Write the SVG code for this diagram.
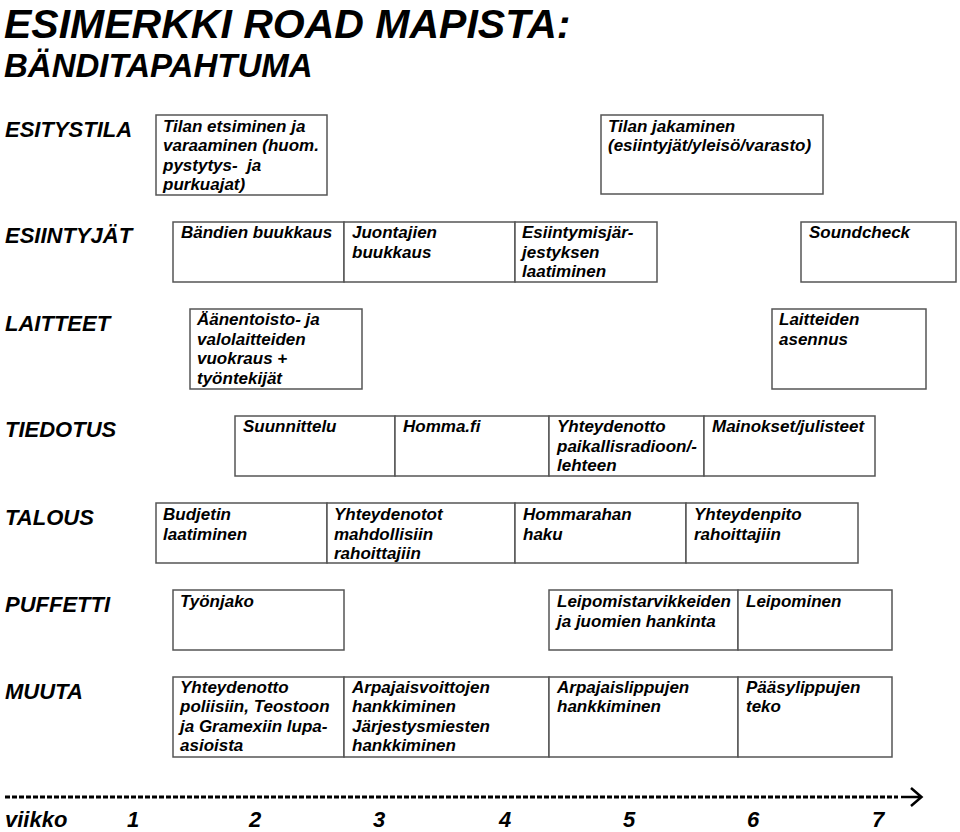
<svg xmlns="http://www.w3.org/2000/svg" width="960" height="832" viewBox="0 0 960 832">
<style>
text{font-family:"Liberation Sans",Arial,sans-serif;font-weight:bold;font-style:italic;fill:#000}
.title1{font-size:41px}
.title2{font-size:33px}
.lab{font-size:22px}
.t{font-size:17px}
.box{fill:#fff;stroke:#555;stroke-width:1.5}
.dash{fill:none;stroke:#000;stroke-width:3;stroke-dasharray:5 2}
.arr{fill:none;stroke:#000;stroke-width:2.5}
</style>
<rect width="960" height="832" fill="#fff"/>
<g id="title">
<text class="title1" x="4" y="37.5">ESIMERKKI ROAD MAPISTA:</text>
<text class="title2" x="4" y="76.5">BÄNDITAPAHTUMA</text>
</g>
<g id="row-labels">
<text class="lab" x="5" y="137">ESITYSTILA</text>
<text class="lab" x="5" y="243">ESIINTYJÄT</text>
<text class="lab" x="5" y="331">LAITTEET</text>
<text class="lab" x="5" y="437">TIEDOTUS</text>
<text class="lab" x="5" y="525">TALOUS</text>
<text class="lab" x="5" y="612">PUFFETTI</text>
<text class="lab" x="5" y="699">MUUTA</text>
</g>
<g id="n-tilan-etsiminen"><rect class="box" x="156" y="115" width="171" height="80"/>
<text class="t" x="163" y="131.5">Tilan etsiminen ja<tspan x="163" dy="19.5">varaaminen (huom.</tspan><tspan x="163" dy="19.5" xml:space="preserve">pystytys-  ja</tspan><tspan x="163" dy="19.5">purkuajat)</tspan></text></g>
<g id="n-tilan-jakaminen"><rect class="box" x="601" y="115" width="222" height="79"/>
<text class="t" x="608" y="131.5">Tilan jakaminen<tspan x="608" dy="19.5">(esiintyjät/yleisö/varasto)</tspan></text></g>

<g id="n-bandien"><rect class="box" x="173" y="222" width="171" height="60"/>
<text class="t" x="181" y="238">Bändien buukkaus</text></g>
<g id="n-juontajien"><rect class="box" x="344" y="222" width="171" height="60"/>
<text class="t" x="352" y="238">Juontajien<tspan x="352" dy="19.5">buukkaus</tspan></text></g>
<g id="n-esiintymis"><rect class="box" x="515" y="222" width="142" height="60"/>
<text class="t" x="522" y="238">Esiintymisjär-<tspan x="522" dy="19.5">jestyksen</tspan><tspan x="522" dy="19.5">laatiminen</tspan></text></g>
<g id="n-soundcheck"><rect class="box" x="801" y="222" width="155" height="60"/>
<text class="t" x="809" y="238">Soundcheck</text></g>

<g id="n-aanentoisto"><rect class="box" x="190" y="309" width="172" height="80"/>
<text class="t" x="197" y="325">Äänentoisto- ja<tspan x="197" dy="19.5">valolaitteiden</tspan><tspan x="197" dy="19.5">vuokraus +</tspan><tspan x="197" dy="19.5">työntekijät</tspan></text></g>
<g id="n-laitteiden"><rect class="box" x="772" y="309" width="154" height="80"/>
<text class="t" x="779" y="325">Laitteiden<tspan x="779" dy="19.5">asennus</tspan></text></g>

<g id="n-suunnittelu"><rect class="box" x="235" y="416" width="160" height="60"/>
<text class="t" x="243" y="432">Suunnittelu</text></g>
<g id="n-homma"><rect class="box" x="395" y="416" width="154" height="60"/>
<text class="t" x="403" y="432">Homma.fi</text></g>
<g id="n-radio"><rect class="box" x="549" y="416" width="155" height="60"/>
<text class="t" x="557" y="432">Yhteydenotto<tspan x="557" dy="19.5">paikallisradioon/-</tspan><tspan x="557" dy="19.5">lehteen</tspan></text></g>
<g id="n-mainokset"><rect class="box" x="704" y="416" width="171" height="60"/>
<text class="t" x="712" y="432">Mainokset/julisteet</text></g>

<g id="n-budjetin"><rect class="box" x="156" y="503" width="171" height="60"/>
<text class="t" x="163" y="520">Budjetin<tspan x="163" dy="19.5">laatiminen</tspan></text></g>
<g id="n-yhteydenotot"><rect class="box" x="327" y="503" width="188" height="60"/>
<text class="t" x="334" y="520">Yhteydenotot<tspan x="334" dy="19.5">mahdollisiin</tspan><tspan x="334" dy="19.5">rahoittajiin</tspan></text></g>
<g id="n-hommarahan"><rect class="box" x="515" y="503" width="171" height="60"/>
<text class="t" x="523" y="520">Hommarahan<tspan x="523" dy="19.5">haku</tspan></text></g>
<g id="n-yhteydenpito"><rect class="box" x="686" y="503" width="172" height="60"/>
<text class="t" x="694" y="520">Yhteydenpito<tspan x="694" dy="19.5">rahoittajiin</tspan></text></g>

<g id="n-tyonjako"><rect class="box" x="173" y="590" width="171" height="60"/>
<text class="t" x="180" y="607">Työnjako</text></g>
<g id="n-leipomistarvikkeiden"><rect class="box" x="549" y="590" width="189" height="60"/>
<text class="t" x="557" y="607">Leipomistarvikkeiden<tspan x="557" dy="19.5">ja juomien hankinta</tspan></text></g>
<g id="n-leipominen"><rect class="box" x="738" y="590" width="154" height="60"/>
<text class="t" x="746" y="607">Leipominen</text></g>

<g id="n-poliisi"><rect class="box" x="173" y="677" width="171" height="80"/>
<text class="t" x="180" y="692.5">Yhteydenotto<tspan x="180" dy="19.5">poliisiin, Teostoon</tspan><tspan x="180" dy="19.5">ja Gramexiin lupa-</tspan><tspan x="180" dy="19.5">asioista</tspan></text></g>
<g id="n-arpajaisvoittojen"><rect class="box" x="344" y="677" width="205" height="80"/>
<text class="t" x="352" y="692.5">Arpajaisvoittojen<tspan x="352" dy="19.5">hankkiminen</tspan><tspan x="352" dy="19.5">Järjestysmiesten</tspan><tspan x="352" dy="19.5">hankkiminen</tspan></text></g>
<g id="n-arpajaislippujen"><rect class="box" x="549" y="677" width="189" height="80"/>
<text class="t" x="557" y="692.5">Arpajaislippujen<tspan x="557" dy="19.5">hankkiminen</tspan></text></g>
<g id="n-paasylippujen"><rect class="box" x="738" y="677" width="154" height="80"/>
<text class="t" x="746" y="692.5">Pääsylippujen<tspan x="746" dy="19.5">teko</tspan></text></g>

<g id="connectors">
<path class="dash" d="M5 797 H898"/>
<path class="arr" d="M901 797 H921 M911 788 L921.5 797 L911 806"/>
</g>
<g id="axis">
<text class="lab" x="5" y="827">viikko</text>
<text class="lab" x="127" y="827">1</text>
<text class="lab" x="249" y="827">2</text>
<text class="lab" x="373" y="827">3</text>
<text class="lab" x="499" y="827">4</text>
<text class="lab" x="623" y="827">5</text>
<text class="lab" x="747" y="827">6</text>
<text class="lab" x="872" y="827">7</text>
</g>
</svg>
